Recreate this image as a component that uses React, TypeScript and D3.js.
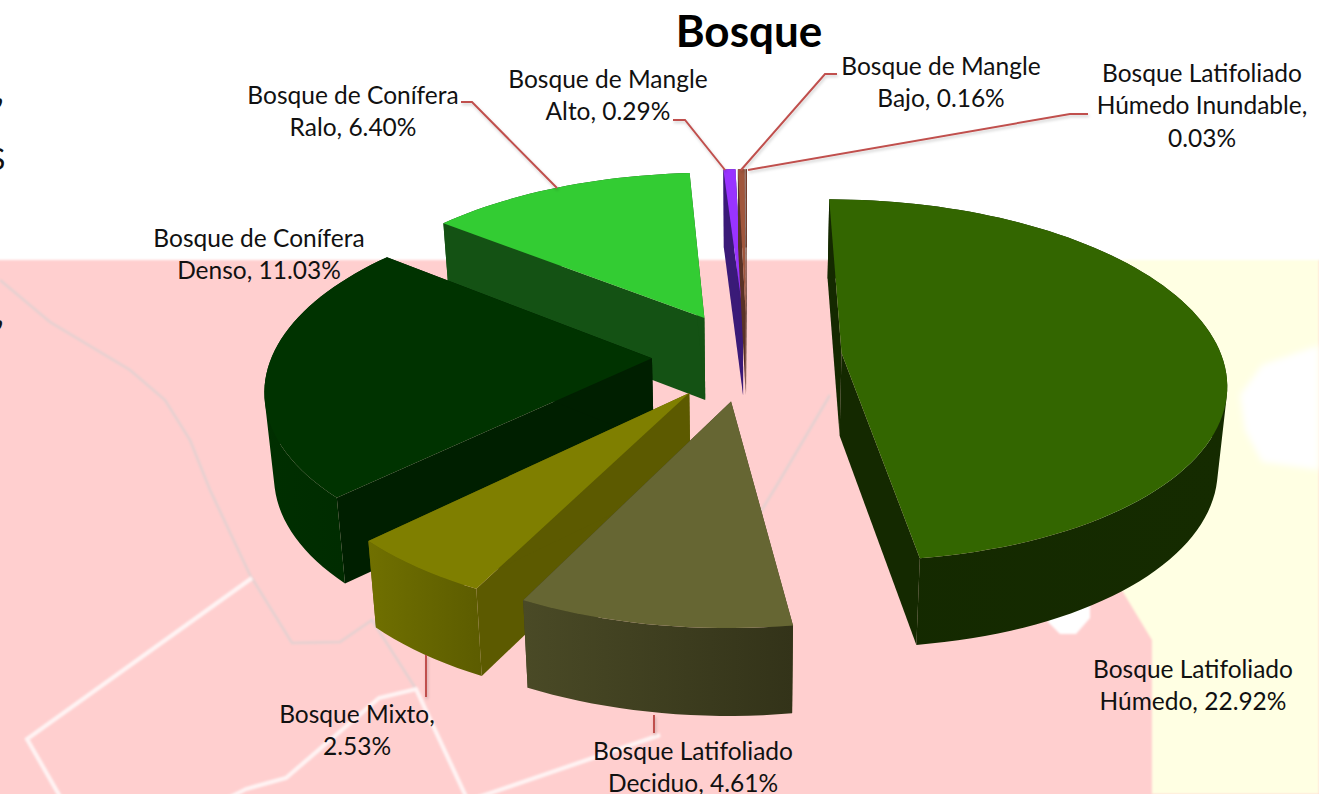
import React from "react";
import * as d3 from "d3";

const title = "Bosque";
const categories = [
  "Húmedo",
  "Deciduo",
  "Mixto",
  "Denso",
  "Ralo",
  "Alto",
  "Bajo",
  "Inundable",
];
const values = [22.92, 4.61, 2.53, 11.03, 6.4, 0.29, 0.16, 0.03];
const labelLines = [
  ["Bosque Latifoliado", "Húmedo, {v}%"],
  ["Bosque Latifoliado", "Deciduo, {v}%"],
  ["Bosque Mixto,", "{v}%"],
  ["Bosque de Conífera", "Denso, {v}%"],
  ["Bosque de Conífera", "Ralo, {v}%"],
  ["Bosque de Mangle", "Alto, {v}%"],
  ["Bosque de Mangle", "Bajo, {v}%"],
  ["Bosque Latifoliado", "Húmedo Inundable,", "{v}%"],
];

// styles per slice: top face, radial wall, outer wall gradient
const topColors = ["#336600", "#666633", "#7f7f00", "#003300", "#33cc33", "#9933ff", "#a0563c", "#7a3a28"];
const sideColors = ["#142900", "#3d3d1f", "#5c5a00", "#001f00", "#145214", "#3a1a78", "#5a3226", "#4a2a20"];
const outerFrom = ["#142900", "#4a4a26", "#707000", "#002f00", "#145214", "#3a1a78", "#5a3226", "#4a2a20"];
const outerTo = ["#152b00", "#333319", "#5c5c00", "#002a00", "#145214", "#3a1a78", "#5a3226", "#4a2a20"];
const drawOrder = [4, 5, 6, 7, 3, 0, 2, 1];

// layout of labels and leaders
const labelAnchors: [number, number][] = [
  [1193, 669], [693, 751], [357, 714], [259, 238], [353, 95], [608, 79], [941, 66], [1202, 73],
];
const leaders: [number, number][][] = [
  [], [[654, 715], [654, 733]], [[426, 655], [426, 697]], [],
  [[461, 102], [472, 102], [557, 188]],
  [[673, 120], [685, 120], [725, 170]],
  [[837, 74], [825, 74], [741, 170]],
  [[1088, 114], [1070, 114], [748, 170]],
];

const cx = 747;
const cy = 356;
const R = 380;
const explode = 95;
const tilt = 0.467;
const persp = 0.15;
const depthScale = d3.scaleLinear().domain([-1.3, 1.3]).range([78, 88]);

function project(X: number, Y: number, bottom: boolean): [number, number] {
  const s = 1 / (1 - (persp * Y) / R);
  const shrink = bottom ? 0.98 : 1;
  const x = cx + X * s * shrink;
  const y = cy + tilt * Y * s + (bottom ? depthScale(Y / R) : 0);
  return [x, y];
}

const pieAngles = d3
  .pie<number>()
  .sort(null)
  .startAngle(0)
  .endAngle(2 * Math.PI)(values);

const line = d3.line<[number, number]>();

const slices = pieAngles.map((p) => {
  const mid = (p.startAngle + p.endAngle) / 2;
  const ox = Math.sin(mid) * explode;
  const oy = -Math.cos(mid) * explode;
  const n = Math.max(2, Math.ceil((p.endAngle - p.startAngle) * 30));
  const rim = d3.range(n + 1).map((i) => {
    const a = p.startAngle + ((p.endAngle - p.startAngle) * i) / n;
    return [ox + R * Math.sin(a), oy - R * Math.cos(a)] as [number, number];
  });
  const topRim = rim.map(([X, Y]) => project(X, Y, false));
  const botRim = rim.map(([X, Y]) => project(X, Y, true));
  const apexT = project(ox, oy, false);
  const apexB = project(ox, oy, true);
  const top = line([apexT, ...topRim])! + "Z";
  // one quad per rim step, all wound the same way, joined into one path:
  // the wall's silhouette at its fold stays filled and no seams show
  const outer = d3
    .range(n)
    .map((i) => {
      const q: [number, number][] = [topRim[i], topRim[i + 1], botRim[i + 1], botRim[i]];
      if (d3.polygonArea(q) < 0) q.reverse();
      return line(q)! + "Z";
    })
    .join("");
  const wallA = line([apexT, topRim[0], botRim[0], apexB])! + "Z";
  const wallB = line([apexT, topRim[n], botRim[n], apexB])! + "Z";
  const xs = [...topRim, ...botRim].map((d) => d[0]);
  return { top, outer, wallA, wallB, x0: d3.min(xs)!, x1: d3.max(xs)! };
});

const roadsWhite: [number, number][][] = [
  [[252, 578], [27, 739], [62, 800]],
  [[193, 816], [246, 789], [286, 778], [379, 698], [416, 689], [475, 816]],
  [[470, 800], [660, 735]],
];
const roadsGrey: [number, number][][] = [
  [[0, 280], [50, 322], [130, 370], [165, 400], [190, 440], [210, 490], [250, 575], [292, 643], [340, 642], [372, 620], [416, 689]],
  [[830, 395], [780, 480], [760, 513]],
];
const yellowZone: [number, number][] = [[1100, 260], [1319, 260], [1319, 794], [1152, 794], [1152, 640], [1117, 582], [1100, 560]];
const whitePatches: [number, number][][] = [
  [[1319, 345], [1262, 365], [1240, 395], [1245, 430], [1262, 462], [1319, 470]],
  [[1050, 600], [1090, 600], [1090, 618], [1076, 634], [1060, 634], [1048, 622]],
];

const font = "Lato, 'Open Sans', sans-serif";

export default function App() {
  return (
    <svg
      width={1319}
      height={794}
      viewBox="0 0 1319 794"
      style={{ position: "absolute", left: 0, top: 0, display: "block", background: "#fff" }}
    >
      <defs>
        <filter id="soft" x="-5%" y="-5%" width="110%" height="110%">
          <feGaussianBlur stdDeviation="0.8" />
        </filter>
        <filter id="softer" x="-20%" y="-20%" width="140%" height="140%">
          <feGaussianBlur stdDeviation="3" />
        </filter>
        <filter id="shadow" x="-10%" y="-10%" width="120%" height="130%">
          <feDropShadow dx="1" dy="2" stdDeviation="1.5" floodColor="#000" floodOpacity="0.2" />
        </filter>
        {slices.map((s, i) => (
          <linearGradient key={i} id={`outer${i}`} gradientUnits="userSpaceOnUse" x1={s.x0} x2={s.x1} y1={0} y2={0}>
            <stop offset="0" stopColor={outerFrom[i]} />
            <stop offset="1" stopColor={outerTo[i]} />
          </linearGradient>
        ))}
      </defs>

      <g filter="url(#soft)">
        <rect x={-10} y={260} width={1340} height={544} fill="#ffcfcf" />
        <path d={line(yellowZone)! + "Z"} fill="#ffffe3" />
        {roadsGrey.map((r, i) => (
          <path key={i} d={line(r)!} fill="none" stroke="#e3d0d0" strokeWidth={2.5} />
        ))}
        {roadsWhite.map((r, i) => (
          <path key={i} d={line(r)!} fill="none" stroke="#fff4f4" strokeWidth={4} />
        ))}
      </g>
      <g filter="url(#softer)">
        <path d={line(whitePatches[0])! + "Z"} fill="#ffffff" />
      </g>
      <g filter="url(#soft)">
        <path d={line(whitePatches[1])! + "Z"} fill="#ffffff" />
      </g>

      {/* cropped fragments of neighbouring text at the left page edge */}
      <g fontFamily={font} fontSize={40} fill="#111">
        <text x={-5} y={103}>,</text>
        <text x={-11} y={170} fontSize={30}>S</text>
        <text x={-5} y={325}>,</text>
      </g>

      {drawOrder.map((i) => (
        <g key={categories[i]} data-category={categories[i]}>
          <path d={slices[i].wallA} fill={sideColors[i]} />
          <path d={slices[i].wallB} fill={sideColors[i]} />
          <path d={slices[i].outer} fill={`url(#outer${i})`} fillRule="nonzero" />
          <path d={slices[i].top} fill={topColors[i]} />
        </g>
      ))}

      <g filter="url(#shadow)">
        {leaders.map((l, i) =>
          l.length ? (
            <path key={i} d={line(l)!} fill="none" stroke="#c0504d" strokeWidth={2} />
          ) : null
        )}
      </g>

      <text x={749} y={47} textAnchor="middle" fontFamily={font} fontWeight={700} fontSize={44} fill="#000">
        {title}
      </text>

      <g fontFamily={font} fontSize={24.5} fill="#111" textAnchor="middle">
        {labelLines.map((lines, i) =>
          lines.map((t, j) => (
            <text key={`${i}-${j}`} x={labelAnchors[i][0]} y={labelAnchors[i][1] + j * 32.5} dy="0.36em">
              {t.replace("{v}", d3.format(".2f")(values[i]))}
            </text>
          ))
        )}
      </g>
    </svg>
  );
}
